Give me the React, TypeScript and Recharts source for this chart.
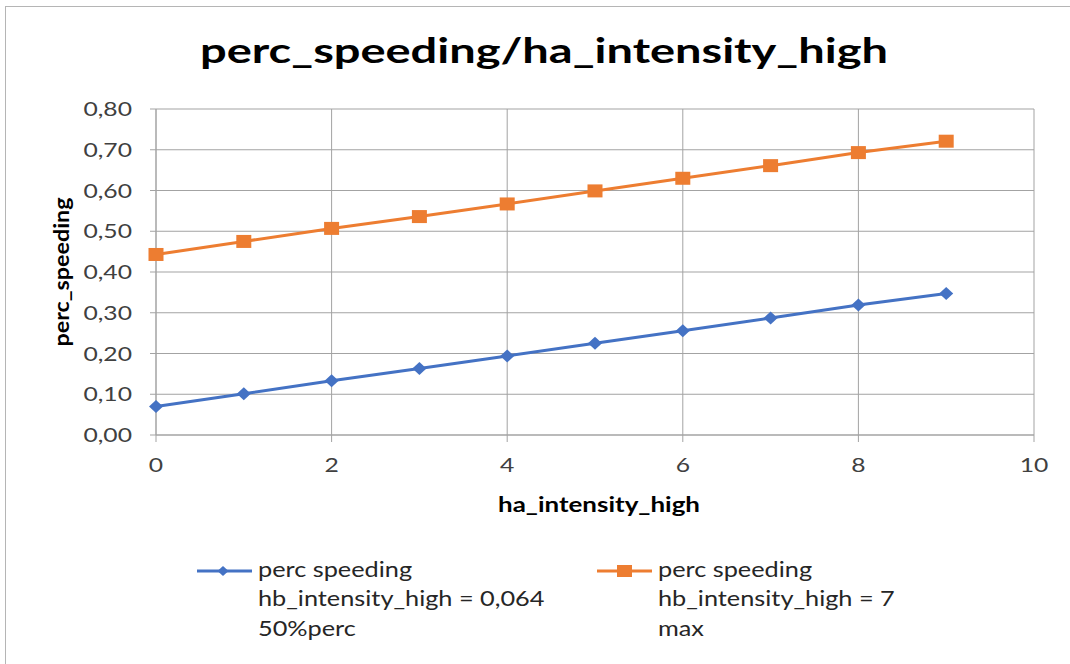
import React from 'react';
import { LineChart, Line, XAxis, YAxis, CartesianGrid, Legend, Label } from 'recharts';

// ha_intensity_high steps
const xValues = [0, 1, 2, 3, 4, 5, 6, 7, 8, 9];
// perc speeding with hb_intensity_high = 0,064 (50% percentile)
const medianSpeeding = [0.07, 0.101, 0.133, 0.163, 0.194, 0.225, 0.256, 0.287, 0.319, 0.347];
// perc speeding with hb_intensity_high = 7 (max)
const maxSpeeding = [0.443, 0.475, 0.507, 0.536, 0.567, 0.599, 0.63, 0.661, 0.693, 0.721];

const xTicks = [0, 2, 4, 6, 8, 10];
const yTicks = [0, 0.1, 0.2, 0.3, 0.4, 0.5, 0.6, 0.7, 0.8];

const medianLabel = ['perc speeding', 'hb_intensity_high = 0,064', '50%perc'];
const maxLabel = ['perc speeding', 'hb_intensity_high = 7', 'max'];

const chartTitle = 'perc_speeding/ha_intensity_high';
const xTitle = 'ha_intensity_high';
const yTitle = 'perc_speeding';

const rows = xValues.map((x, i) => ({ x, median: medianSpeeding[i], max: maxSpeeding[i] }));

const FONT = 'Lato, "Liberation Sans", sans-serif';
const BLUE = '#4472C4';
const ORANGE = '#ED7D31';
const GRID = '#a3a3a3';
const TEXT = '#404040';
const TICK_STRETCH = 1.3;
const LEGEND_STRETCH = 1.15;

const fmt = (v: number) => v.toFixed(2).replace('.', ',');

const YTick = (props: any) => {
  const { x, y, payload } = props;
  return (
    <text
      transform={`translate(${x},${y}) scale(${TICK_STRETCH},1)`}
      textAnchor="end"
      dy={7}
      fontFamily={FONT}
      fontSize={19}
      fill={TEXT}
    >
      {fmt(payload.value)}
    </text>
  );
};

const XTick = (props: any) => {
  const { x, y, payload } = props;
  return (
    <text
      transform={`translate(${x},${y}) scale(${TICK_STRETCH},1)`}
      textAnchor="middle"
      dy={22}
      fontFamily={FONT}
      fontSize={19}
      fill={TEXT}
    >
      {String(payload.value)}
    </text>
  );
};

const Diamond = (props: any) => {
  const { cx, cy, index } = props;
  if (cx == null || cy == null) return <g key={`dm-${index}`} />;
  return (
    <path
      key={`dm-${index}`}
      d={`M${cx - 7},${cy} L${cx},${cy - 6.5} L${cx + 7},${cy} L${cx},${cy + 6.5} Z`}
      fill={BLUE}
    />
  );
};

const Square = (props: any) => {
  const { cx, cy, index } = props;
  if (cx == null || cy == null) return <g key={`sq-${index}`} />;
  return <rect key={`sq-${index}`} x={cx - 7.5} y={cy - 6.5} width={15} height={13} fill={ORANGE} />;
};

const LegendEntry = ({ x, color, marker, lines }: { x: number; color: string; marker: 'diamond' | 'square'; lines: string[] }) => (
  <g transform={`translate(${x},0)`}>
    <line x1={0} x2={55} y1={23} y2={23} stroke={color} strokeWidth={3} />
    {marker === 'diamond' ? (
      <path d="M20.5,23 L26,18 L31.5,23 L26,28 Z" fill={color} />
    ) : (
      <rect x={20} y={17} width={15} height={12} fill={color} />
    )}
    <g transform={`translate(61,0) scale(${LEGEND_STRETCH},1)`}>
      {lines.map((t, i) => (
        <text key={i} x={0} y={29 + i * 29.5} fontFamily={FONT} fontSize={22} fill="#262626">
          {t}
        </text>
      ))}
    </g>
  </g>
);

const renderLegend = () => (
  <svg width={1070} height={100} style={{ display: 'block' }}>
    <LegendEntry x={197} color={BLUE} marker="diamond" lines={medianLabel} />
    <LegendEntry x={597} color={ORANGE} marker="square" lines={maxLabel} />
  </svg>
);

export default function App() {
  return (
    <div style={{ position: 'absolute', left: 0, top: 0, width: 1070, height: 664, background: '#fff', overflow: 'hidden' }}>
      <div
        style={{
          position: 'absolute',
          left: 5,
          top: 6,
          width: 1100,
          height: 700,
          borderTop: '1px solid #b5b5b5',
          borderLeft: '1px solid #b5b5b5',
        }}
      />
      <svg width={1070} height={100} style={{ position: 'absolute', left: 0, top: 0 }}>
        <text
          x={544}
          y={63}
          textAnchor="middle"
          fontFamily={FONT}
          fontWeight={700}
          fontSize={34}
          fill="#000"
          textLength={688}
          lengthAdjust="spacingAndGlyphs"
        >
          {chartTitle}
        </text>
      </svg>
      <div style={{ position: 'absolute', left: 0, top: 0 }}>
        <LineChart width={1070} height={664} data={rows} margin={{ top: 109, right: 36, left: 56, bottom: 149 }}>
          <CartesianGrid stroke={GRID} strokeWidth={1} />
          <XAxis
            dataKey="x"
            type="number"
            domain={[0, 10]}
            ticks={xTicks}
            interval={0}
            height={80}
            tickSize={7}
            tickMargin={8}
            axisLine={{ stroke: GRID }}
            tickLine={{ stroke: GRID }}
            tick={<XTick />}
          >
            <Label
              content={(p: any) => {
                const vb = p.viewBox;
                return (
                  <text
                    x={vb.x + vb.width / 2 + 4}
                    y={vb.y + 77}
                    textAnchor="middle"
                    fontFamily={FONT}
                    fontWeight={700}
                    fontSize={20}
                    fill="#000"
                    textLength={202}
                    lengthAdjust="spacingAndGlyphs"
                  >
                    {xTitle}
                  </text>
                );
              }}
            />
          </XAxis>
          <YAxis
            type="number"
            domain={[0, 0.8]}
            ticks={yTicks}
            interval={0}
            width={100}
            tickSize={6}
            tickMargin={18}
            axisLine={{ stroke: GRID }}
            tickLine={{ stroke: GRID }}
            tick={<YTick />}
          >
            <Label
              content={(p: any) => {
                const vb = p.viewBox;
                const cx = vb.x + 13;
                const cy = vb.y + vb.height / 2;
                return (
                  <text
                    x={cx}
                    y={cy}
                    transform={`rotate(-90, ${cx}, ${cy})`}
                    textAnchor="middle"
                    fontFamily={FONT}
                    fontWeight={700}
                    fontSize={20}
                    fill="#000"
                    textLength={149}
                    lengthAdjust="spacingAndGlyphs"
                  >
                    {yTitle}
                  </text>
                );
              }}
            />
          </YAxis>
          <Legend
            layout="horizontal"
            align="center"
            verticalAlign="middle"
            content={renderLegend}
            wrapperStyle={{ left: 0, top: 548, width: 1070, height: 100 }}
          />
          <Line
            dataKey="median"
            name={medianLabel.join(' ')}
            stroke={BLUE}
            strokeWidth={3}
            dot={Diamond}
            activeDot={false}
            isAnimationActive={false}
          />
          <Line
            dataKey="max"
            name={maxLabel.join(' ')}
            stroke={ORANGE}
            strokeWidth={3}
            dot={Square}
            activeDot={false}
            isAnimationActive={false}
          />
        </LineChart>
      </div>
    </div>
  );
}
